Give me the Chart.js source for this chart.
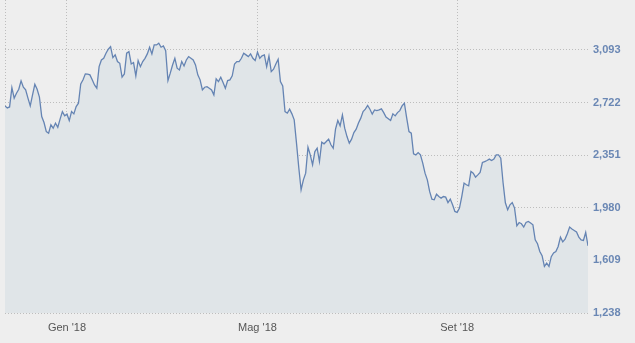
<!DOCTYPE html>
<html>
<head>
<meta charset="utf-8">
<script src="https://cdn.jsdelivr.net/npm/chart.js@4/dist/chart.umd.min.js"></script>
<style>
  html, body { margin: 0; padding: 0; background: #eeeeee; }
  #wrap { width: 635px; height: 343px; }
</style>
</head>
<body>
<div id="wrap"><canvas id="c" width="635" height="343"></canvas></div>
<script>
// Daily closing values (trading days, late Nov 2017 - late Nov 2018)
const closes = [
  2698, 2684, 2691, 2827, 2753, 2788, 2816, 2875, 2830, 2811,
  2753, 2698, 2776, 2851, 2816, 2760, 2623, 2581, 2517, 2506,
  2565, 2541, 2577, 2548, 2605, 2658, 2628, 2640, 2595, 2658,
  2642, 2694, 2717, 2853, 2882, 2924, 2922, 2917, 2882, 2846,
  2823, 2975, 3022, 3034, 3070, 3098, 3116, 3039, 3058, 3011,
  2999, 2901, 2924, 3070, 3081, 2994, 3004, 2910, 3018, 2975,
  3011, 3034, 3065, 3112, 3065, 3128, 3128, 3140, 3112, 3121,
  3088, 2877, 2929, 2987, 3034, 2964, 2952, 3011, 2980, 3022,
  3046, 3034, 3022, 2987, 2917, 2882, 2811, 2830, 2834, 2823,
  2811, 2776, 2889, 2870, 2901, 2863, 2823, 2877, 2882, 2910,
  2994, 3011, 3011, 3034, 3070, 3058, 3046, 3065, 3034, 3018,
  3077, 3034, 3051, 3058, 2975, 3051, 2940, 2957, 2994, 3027,
  2870, 2839, 2658, 2647, 2675, 2642, 2600, 2436, 2262, 2107,
  2177, 2224, 2407, 2353, 2283, 2376, 2400, 2306, 2443, 2431,
  2447, 2464, 2424, 2400, 2534, 2595, 2558, 2635, 2541, 2482,
  2436, 2464, 2510, 2534, 2577, 2612, 2658, 2675, 2701, 2675,
  2640, 2670, 2665, 2670, 2677, 2651, 2619, 2607, 2595, 2642,
  2628, 2651, 2665, 2698, 2717, 2614, 2517, 2506, 2360, 2353,
  2369, 2353, 2295, 2224, 2177, 2095, 2041, 2036, 2076, 2059,
  2048, 2059, 2055, 2017, 2041, 2001, 1954, 1947, 1978, 2059,
  2154, 2142, 2135, 2236, 2224, 2196, 2212, 2229, 2299, 2306,
  2313, 2323, 2313, 2323, 2353, 2353, 2330, 2156, 2015, 1966,
  2001, 2017, 1978, 1853, 1876, 1867, 1844, 1876, 1883, 1872,
  1860, 1754, 1726, 1672, 1642, 1566, 1590, 1566, 1635, 1661,
  1672, 1707, 1773, 1740, 1759, 1797, 1844, 1830, 1820, 1809,
  1773, 1754, 1750, 1806, 1712
];
// Y axis tick values
const yTicks = [1238, 1609, 1980, 2351, 2722, 3093];
const yMin = 1238;
const yMax = 3445;
// Month ticks: trading-day index of the first session of the month, and label
const monthIdx = [27, 110, 197];
const monthLabels = ["Gen '18", "Mag '18", "Set '18"];

const points = closes.map((v, i) => ({ x: i, y: v }));

new Chart(document.getElementById('c'), {
  type: 'line',
  data: {
    datasets: [{
      data: points,
      borderColor: '#6584b3',
      borderWidth: 1.3,
      backgroundColor: '#e0e5e8',
      fill: 'start',
      pointRadius: 0,
      tension: 0
    }]
  },
  options: {
    responsive: false,
    animation: false,
    devicePixelRatio: 1,
    layout: { padding: { left: 5, top: 0, right: 0, bottom: 0 } },
    plugins: { legend: { display: false }, tooltip: { enabled: false } },
    scales: {
      x: {
        type: 'linear',
        min: 0,
        max: closes.length - 1,
        afterBuildTicks: (s) => { s.ticks = [0].concat(monthIdx).map(v => ({ value: v })); },
        afterFit: (s) => { s.height = 30; s.paddingLeft = 0; s.paddingRight = 0; },
        ticks: {
          autoSkip: false,
          maxRotation: 0,
          padding: 8,
          color: '#555555',
          font: { family: 'Liberation Sans', size: 11 },
          callback: (v) => { const k = monthIdx.indexOf(v); return k >= 0 ? monthLabels[k] : ''; }
        },
        grid: { color: '#bdbdbd', drawTicks: false, lineWidth: 1 },
        border: { display: false, dash: [1, 2] }
      },
      y: {
        position: 'right',
        min: yMin,
        max: yMax,
        afterBuildTicks: (s) => { s.ticks = yTicks.map(v => ({ value: v })); },
        afterFit: (s) => { s.width = 47; s.paddingTop = 0; s.paddingBottom = 0; },
        ticks: {
          padding: 5,
          color: '#6a87b4',
          font: { family: 'Liberation Sans', size: 11, weight: 'bold' },
          callback: (v) => v.toLocaleString('en-US')
        },
        grid: { color: '#bdbdbd', drawTicks: false, lineWidth: 1 },
        border: { display: false, dash: [1, 2] }
      }
    }
  }
});
</script>
</body>
</html>
